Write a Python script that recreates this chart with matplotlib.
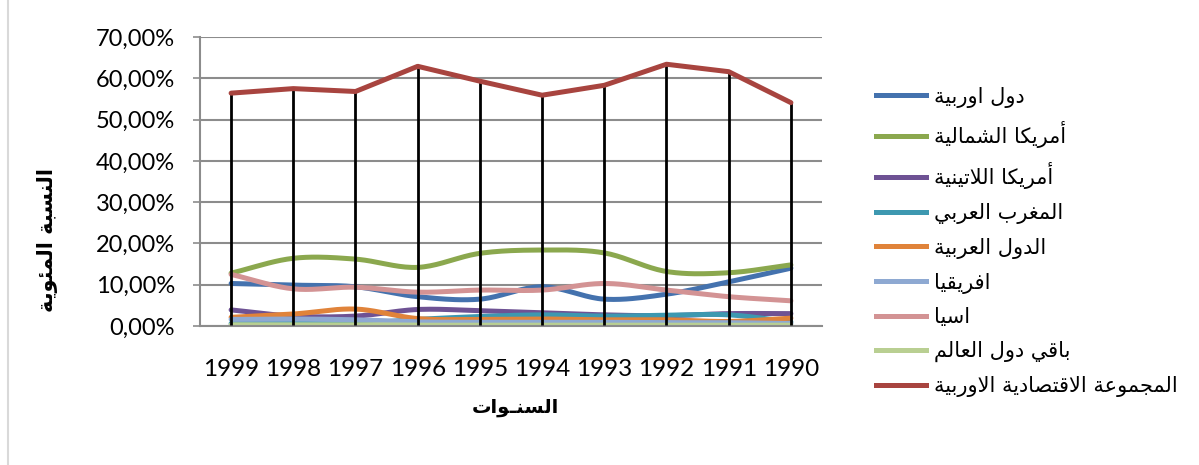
import numpy as np
import matplotlib
matplotlib.use("Agg")
import matplotlib.pyplot as plt
from matplotlib.lines import Line2D
from matplotlib.ticker import FuncFormatter

# === Datos ===
years = ["1999", "1998", "1997", "1996", "1995", "1994", "1993", "1992", "1991", "1990"]

europe = [10.3, 9.9, 9.5, 7.1, 6.5, 9.5, 6.5, 7.7, 10.7, 14.0]
north_america = [12.8, 16.4, 16.2, 14.2, 17.6, 18.4, 17.7, 13.2, 12.9, 14.8]
latin_america = [3.9, 2.4, 2.4, 4.0, 3.7, 3.2, 2.7, 2.5, 3.0, 3.0]
maghreb = [0.6, 0.6, 0.6, 1.6, 2.3, 2.7, 2.4, 2.6, 2.7, 1.0]
arab = [2.1, 2.9, 4.1, 1.8, 1.6, 1.7, 1.5, 1.5, 1.1, 1.9]
africa = [1.6, 1.7, 1.5, 1.0, 0.9, 0.9, 0.9, 0.8, 0.8, 0.6]
asia = [12.5, 9.0, 9.4, 8.2, 8.7, 8.7, 10.3, 8.7, 7.1, 6.1]
rest = [0.3, 0.3, 0.3, 0.2, 0.2, 0.2, 0.2, 0.2, 0.2, 0.2]
eec = [56.4, 57.5, 56.8, 62.9, 59.3, 55.9, 58.3, 63.4, 61.6, 54.1]

labels = ["دول اوربية", "أمريكا الشمالية", "أمريكا اللاتينية", "المغرب العربي",
          "الدول العربية", "افريقيا", "اسيا", "باقي دول العالم",
          "المجموعة الاقتصادية الاوربية"]
colors = ["#4472AE", "#8BA84E", "#6E5294", "#3D98B0", "#E0833A",
          "#8EA9D2", "#D39394", "#B9CF92", "#A8443F"]
series = [europe, north_america, latin_america, maghreb, arab, africa, asia, rest, eec]

# === Formas de presentación árabes (matplotlib no hace el shaping) ===
FORMS = {
    "ا": ("\uFE8D", "\uFE8E", None, None),
    "أ": ("\uFE83", "\uFE84", None, None),
    "ب": ("\uFE8F", "\uFE90", "\uFE91", "\uFE92"),
    "ة": ("\uFE93", "\uFE94", None, None),
    "ت": ("\uFE95", "\uFE96", "\uFE97", "\uFE98"),
    "ج": ("\uFE9D", "\uFE9E", "\uFE9F", "\uFEA0"),
    "د": ("\uFEA9", "\uFEAA", None, None),
    "ر": ("\uFEAD", "\uFEAE", None, None),
    "س": ("\uFEB1", "\uFEB2", "\uFEB3", "\uFEB4"),
    "ش": ("\uFEB5", "\uFEB6", "\uFEB7", "\uFEB8"),
    "ص": ("\uFEB9", "\uFEBA", "\uFEBB", "\uFEBC"),
    "ع": ("\uFEC9", "\uFECA", "\uFECB", "\uFECC"),
    "غ": ("\uFECD", "\uFECE", "\uFECF", "\uFED0"),
    "ف": ("\uFED1", "\uFED2", "\uFED3", "\uFED4"),
    "ق": ("\uFED5", "\uFED6", "\uFED7", "\uFED8"),
    "ك": ("\uFED9", "\uFEDA", "\uFEDB", "\uFEDC"),
    "ل": ("\uFEDD", "\uFEDE", "\uFEDF", "\uFEE0"),
    "م": ("\uFEE1", "\uFEE2", "\uFEE3", "\uFEE4"),
    "ن": ("\uFEE5", "\uFEE6", "\uFEE7", "\uFEE8"),
    "ه": ("\uFEE9", "\uFEEA", "\uFEEB", "\uFEEC"),
    "و": ("\uFEED", "\uFEEE", None, None),
    "ي": ("\uFEF1", "\uFEF2", "\uFEF3", "\uFEF4"),
    "ئ": ("\uFE89", "\uFE8A", "\uFE8B", "\uFE8C"),
    "ـ": ("\u0640", "\u0640", "\u0640", "\u0640"),
    "لا": ("\uFEFB", "\uFEFC", None, None),
}


def ar(text):
    """Devuelve el texto árabe con formas contextuales, en orden visual."""
    tokens = []
    i = 0
    while i < len(text):
        if text[i] == "ل" and i + 1 < len(text) and text[i + 1] == "ا":
            tokens.append("لا")
            i += 2
        else:
            tokens.append(text[i])
            i += 1
    out = []
    for k, t in enumerate(tokens):
        if t not in FORMS:
            out.append(t)
            continue
        f = FORMS[t]
        prev = tokens[k - 1] if k > 0 else None
        nxt = tokens[k + 1] if k + 1 < len(tokens) else None
        join_prev = prev in FORMS and FORMS[prev][2] is not None
        join_next = f[2] is not None and nxt in FORMS
        if join_prev and join_next:
            out.append(f[3])
        elif join_prev:
            out.append(f[1])
        elif join_next:
            out.append(f[2])
        else:
            out.append(f[0])
    return "".join(out[::-1])


def smooth(x, y, n=20):
    """Curva Catmull-Rom para imitar las líneas suavizadas de Excel."""
    x = np.asarray(x, float)
    y = np.asarray(y, float)
    px = np.concatenate([[2 * x[0] - x[1]], x, [2 * x[-1] - x[-2]]])
    py = np.concatenate([[2 * y[0] - y[1]], y, [2 * y[-1] - y[-2]]])
    xs, ys = [], []
    t = np.linspace(0, 1, n, endpoint=False)
    for i in range(1, len(px) - 2):
        for arr, p in ((xs, px), (ys, py)):
            p0, p1, p2, p3 = p[i - 1], p[i], p[i + 1], p[i + 2]
            arr.extend(0.5 * (2 * p1 + (-p0 + p2) * t + (2 * p0 - 5 * p1 + 4 * p2 - p3) * t ** 2
                              + (-p0 + 3 * p1 - 3 * p2 + p3) * t ** 3))
    xs.append(x[-1])
    ys.append(y[-1])
    return np.array(xs), np.array(ys)


# === Figura ===
fig = plt.figure(figsize=(11.99, 4.65), dpi=100)
ax = fig.add_axes([200 / 1199, 1 - 326 / 465, 622 / 1199, 289 / 465])

x = np.arange(len(years))
vals = np.array(series)

ax.vlines(x, vals.min(axis=0), vals.max(axis=0), color="black", lw=2, zorder=3)

for name, col, s in zip(labels, colors, series):
    if s is eec:
        ax.plot(x, s, color=col, lw=3.6, solid_capstyle="round", zorder=4)
    else:
        sx, sy = smooth(x, s)
        ax.plot(sx, sy, color=col, lw=3.6, solid_capstyle="round", zorder=2)

ax.set_xlim(-0.5, len(years) - 0.5)
ax.set_ylim(0, 70)
ax.set_yticks(np.arange(0, 71, 10))
ax.yaxis.set_major_formatter(FuncFormatter(lambda v, p: f"{v:.2f}%".replace(".", ",")))
ax.set_xticks(x)
ax.set_xticklabels(years)
ax.grid(axis="y", color="#8c8c8c", lw=1.5)
ax.set_axisbelow(True)

for side in ["top", "right"]:
    ax.spines[side].set_visible(False)
for side in ["left", "bottom"]:
    ax.spines[side].set_color("#8c8c8c")
    ax.spines[side].set_linewidth(1.5)

ax.tick_params(axis="y", length=5, width=1.2, color="#8c8c8c", pad=13, labelsize=17)
ax.tick_params(axis="x", length=0, pad=24, labelsize=17.5)
for lab in ax.get_xticklabels() + ax.get_yticklabels():
    lab.set_fontfamily("Lato")

fig.text(0.040, 1 - 240 / 465, ar("النسبة المئوية"), rotation=90, ha="center", va="center",
         fontsize=15, fontweight="bold", family="DejaVu Sans")
fig.text(515 / 1199, 1 - 407 / 465, ar("السنـوات"), ha="center", va="center",
         fontsize=14, fontweight="bold", family="DejaVu Sans")

handles = [Line2D([], [], color=c, lw=3.6) for c in colors]
fig.legend(handles, [ar(l) for l in labels], loc="upper left",
           bbox_to_anchor=(857 / 1199, 1 - 68 / 465), frameon=False,
           prop={"family": "DejaVu Sans", "size": 15}, handlelength=2.4,
           handletextpad=0.4, labelspacing=0.66)

# borde del área del gráfico
fig.add_artist(Line2D([8 / 1199, 8 / 1199], [0, 1], color="#d9d9d9", lw=1.5))

fig.savefig("out.png", dpi=100)
